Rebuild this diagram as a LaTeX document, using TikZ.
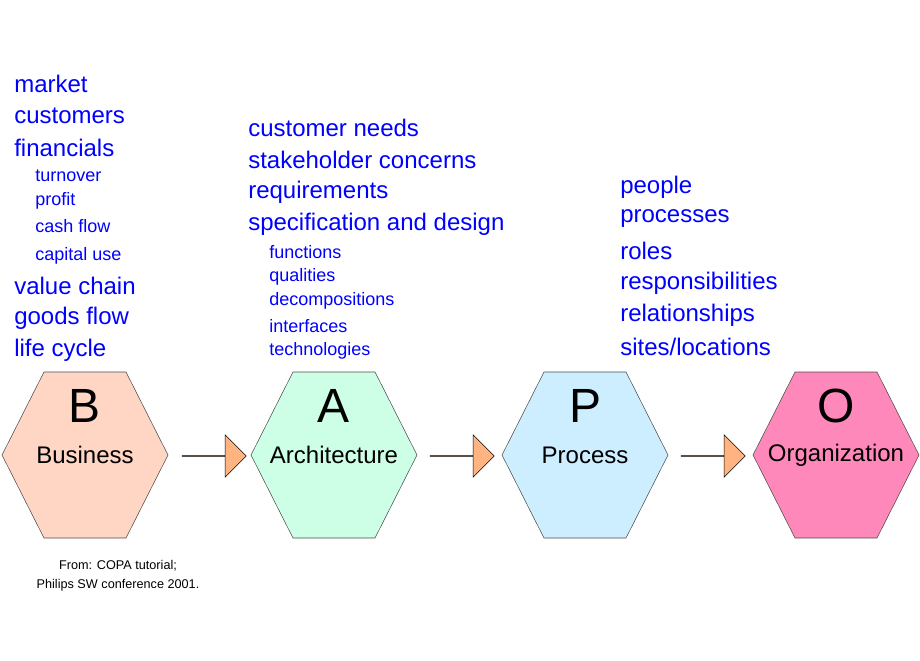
\documentclass[tikz,border=0pt]{standalone}
\usepackage{fontspec}
\setmainfont{Liberation Sans}
\usetikzlibrary{shapes.arrows}
\definecolor{bfill}{RGB}{255,213,196}
\definecolor{afill}{RGB}{204,255,230}
\definecolor{pfill}{RGB}{204,238,255}
\definecolor{ofill}{RGB}{255,136,187}
\definecolor{arrfill}{RGB}{255,179,128}
\begin{document}
\begin{tikzpicture}[x=0.75pt,y=-0.75pt]
\tikzset{big/.style = {anchor=west,inner sep=0pt,text=blue,font=\fontsize{18}{20}\selectfont}}
\tikzset{small/.style = {anchor=west,inner sep=0pt,text=blue,font=\fontsize{13.5}{15}\selectfont}}
\tikzset{flowarrow/.style = {single arrow,draw,fill=arrfill,minimum height=48pt,minimum width=31.5pt,
	single arrow head extend=10.5pt,inner sep=0pt}}
\useasboundingbox (0,0) rectangle (920,660);
% hexagons
\foreach \cx/\col/\l/\name in {85/bfill/B/Business,334/afill/A/Architecture,585/pfill/P/Process,836/ofill/O/Organization}
{
  \draw[fill=\col,draw=black!70] (\cx-83,455) -- (\cx-41,372) -- (\cx+41,372) -- (\cx+83,455)
     -- (\cx+41,538) -- (\cx-41,538) -- cycle;
  \node[font=\fontsize{36}{40}\selectfont] (\l) at (\cx,406) {\l};
  \node[font=\fontsize{18}{20}\selectfont] (\name) at (\cx,455) {\name};
}
% arrows
\node[flowarrow] (ba) at (214,456) {};
\node[flowarrow] (ap) at (462,456) {};
\node[flowarrow] (po) at (713,456) {};
% business list
\foreach \t/\y in {market/84,customers/116,financials/148,value chain/286,goods flow/318,life cycle/350}
  \node[big] at (14,\y) {\t};
\foreach \t/\y in {turnover/176,profit/201,cash flow/226,capital use/256}
  \node[small] at (35,\y) {\t};
% architecture list
\foreach \t/\y in {customer needs/128,stakeholder concerns/160,requirements/192,specification and design/224}
  \node[big] at (248,\y) {\t};
\foreach \t/\y in {functions/252,qualities/277,decompositions/301,interfaces/326,technologies/351}
  \node[small] at (269,\y) {\t};
% process list
\foreach \t/\y in {people/187,processes/219,roles/251,responsibilities/283,relationships/315,{sites/locations}/347}
  \node[big] at (620,\y) {\t};
% source
\node[align=center,font=\fontsize{9.5}{14}\selectfont] (src) at (118,576) {From: COPA tutorial;\\Philips SW conference 2001.};
\end{tikzpicture}
\end{document}
